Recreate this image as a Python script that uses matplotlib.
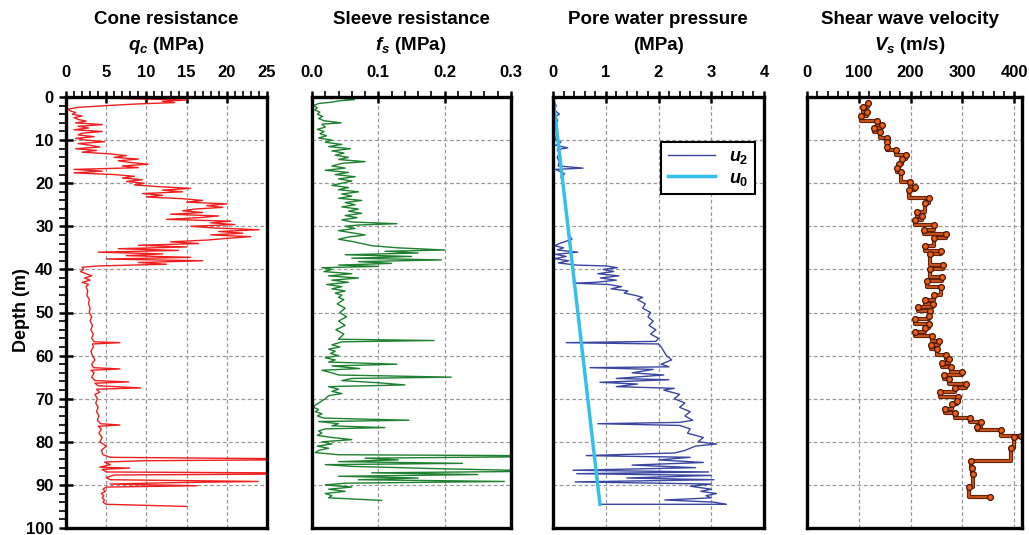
import matplotlib.pyplot as plt
import matplotlib.patheffects as pe
from matplotlib.ticker import MultipleLocator

# cone resistance qc (MPa) vs depth (m)
qc_depth = [0.0, 0.4, 0.7, 1.0, 1.3, 1.6, 2.0, 2.4, 2.8, 3.2, 3.6, 4.0, 4.4, 4.8, 5.2, 5.6,
            6.0, 6.4, 6.8, 7.2, 7.6, 8.0, 8.4, 8.8, 9.2, 9.6, 10.0, 10.4, 10.8, 11.2, 11.6,
            12.0, 12.4, 12.8, 13.2, 13.6, 14.0, 14.4, 14.8, 15.2, 15.6, 16.0, 16.4, 16.8,
            17.2, 17.6, 18.0, 18.4, 18.8, 19.2, 19.6, 20.0, 20.4, 20.8, 21.2, 21.6, 22.0,
            22.4, 22.8, 23.2, 23.6, 24.0, 24.4, 24.8, 25.2, 25.6, 26.0, 26.4, 26.8, 27.2,
            27.6, 28.0, 28.4, 28.8, 29.2, 29.6, 30.0, 30.4, 30.8, 31.2, 31.6, 32.0, 32.4,
            32.8, 33.2, 33.6, 34.0, 34.4, 34.8, 35.2, 35.6, 36.0, 36.4, 36.8, 37.2, 37.6,
            38.0, 38.4, 38.8, 39.2, 39.5, 40.0, 40.5, 41.0, 41.5, 42.0, 42.5, 43.0, 43.5,
            44.0, 45.0, 46.0, 47.0, 48.0, 49.0, 50.0, 51.0, 52.0, 53.0, 54.0, 55.0, 56.0,
            56.8, 57.0, 57.3, 58.0, 59.0, 60.0, 61.0, 62.0, 62.8, 63.1, 63.4, 64.0, 65.0,
            65.8, 66.1, 66.4, 67.0, 67.5, 67.8, 68.5, 69.0, 70.0, 71.0, 72.0, 73.0, 74.0,
            75.0, 75.8, 76.1, 76.4, 77.0, 78.0, 79.0, 80.0, 81.0, 82.0, 83.0, 83.6, 83.9,
            84.2, 84.4, 84.7, 85.3, 85.9, 86.1, 86.4, 87.0, 87.2, 87.5, 87.7, 88.3, 88.8,
            89.2, 89.5, 89.8, 90.2, 90.5, 91.0, 91.5, 92.0, 92.5, 93.0, 93.5, 94.0, 94.5, 95.0]
qc_value = [0.5, 8.0, 15.0, 12.0, 13.5, 9.0, 5.0, 1.5, 0.3, 0.5, 1.2, 0.8, 2.0, 1.0, 1.5, 2.5,
            1.2, 4.5, 1.5, 2.8, 1.0, 4.5, 2.0, 1.5, 3.5, 1.2, 2.5, 4.8, 1.5, 3.0, 4.2,
            1.2, 3.8, 2.0, 5.5, 7.5, 6.0, 9.0, 6.5, 8.0, 10.2, 7.0, 9.0, 1.0,
            4.5, 1.0, 6.0, 8.5, 7.0, 9.5, 7.5, 9.7, 8.5, 11.5, 15.5, 12.0, 14.5,
            9.5, 12.0, 10.0, 14.5, 17.0, 15.0, 20.0, 17.5, 19.5, 16.0, 14.5, 17.0, 13.0,
            19.0, 16.5, 12.5, 20.5, 18.0, 21.0, 15.5, 18.5, 24.0, 19.0, 22.0, 18.0, 23.0,
            20.0, 17.5, 13.0, 16.5, 9.0, 15.0, 6.5, 14.0, 4.0, 12.0, 7.5, 15.5, 5.0,
            17.0, 9.0, 12.5, 4.0, 2.0, 2.2, 1.8, 2.5, 3.2, 2.3, 3.0, 2.0, 2.8,
            2.5, 2.7, 2.6, 2.9, 2.8, 3.0, 2.9, 3.2, 3.0, 3.3, 3.1, 3.4, 3.2,
            3.5, 6.7, 3.3, 3.4, 3.1, 3.3, 3.6, 3.2, 3.4, 6.7, 3.1, 3.5, 3.2,
            3.6, 7.8, 3.6, 4.0, 9.3, 3.8, 4.2, 3.6, 3.9, 3.7, 4.0, 3.8, 4.1,
            3.9, 4.3, 6.7, 4.0, 4.4, 4.1, 4.5, 4.2, 5.0, 4.4, 4.6, 5.5, 25.0,
            25.0, 9.5, 4.8, 5.5, 4.2, 7.9, 4.5, 5.0, 25.0, 25.0, 6.0, 5.0, 5.5,
            23.9, 12.6, 5.5, 16.3, 5.0, 4.6, 4.9, 4.4, 4.7, 4.5, 4.8, 4.6, 5.0, 15.0]

# sleeve resistance fs (MPa)
fs_depth = [0.0, 0.3, 0.6, 0.9, 1.2, 1.5, 2.0, 2.5, 3.0, 3.5, 4.0, 4.5, 5.0, 5.5, 6.0, 6.3,
            7.0, 7.5, 8.0, 8.5, 9.0, 9.5, 10.0, 10.5, 11.0, 11.5, 12.0, 12.5, 13.0, 13.5,
            14.0, 14.5, 15.0, 15.4, 16.0, 16.5, 17.0, 17.5, 18.0, 18.5, 19.0, 19.5, 20.0,
            20.5, 21.0, 21.5, 22.0, 22.5, 23.0, 23.5, 24.0, 24.5, 25.0, 25.5, 26.0, 26.5,
            27.0, 27.5, 28.0, 28.5, 29.0, 29.4, 29.7, 30.0, 30.5, 31.0, 31.5, 32.0, 32.5,
            33.0, 33.5, 34.0, 34.5, 35.0, 35.5, 35.8, 36.2, 36.6, 37.0, 37.4, 37.8, 38.2,
            38.6, 39.0, 39.3, 39.6, 40.0, 40.5, 41.0, 41.5, 42.0, 42.5, 43.0, 43.5, 44.0,
            44.5, 45.0, 45.5, 46.0, 46.5, 47.0, 48.0, 49.0, 50.0, 51.0, 52.0, 53.0, 54.0,
            55.0, 56.2, 56.5, 56.8, 57.5, 58.0, 58.5, 59.0, 59.5, 60.0, 60.5, 61.0, 61.5,
            62.0, 62.4, 63.0, 63.4, 64.0, 64.5, 65.0, 65.3, 65.8, 66.3, 66.8, 67.2, 67.8,
            68.3, 68.8, 69.3, 70.0, 70.5, 71.0, 71.5, 72.0, 72.5, 73.0, 73.5, 74.0, 74.5,
            75.0, 75.3, 75.8, 76.3, 76.7, 77.0, 77.5, 78.0, 78.5, 79.0, 79.5, 80.0, 80.5,
            81.0, 81.5, 82.0, 82.5, 83.0, 83.2, 83.5, 83.8, 84.2, 84.6, 85.0, 85.3, 85.7,
            86.2, 86.6, 86.9, 87.2, 87.6, 88.0, 88.4, 88.8, 89.2, 89.6, 90.0, 90.5, 91.0,
            91.5, 92.0, 92.5, 93.0, 93.6]
fs_value = [0.002, 0.045, 0.064, 0.040, 0.030, 0.010, 0.002, 0.008, 0.004, 0.012, 0.008, 0.016,
            0.010, 0.018, 0.044, 0.015, 0.020, 0.008, 0.018, 0.012, 0.022, 0.010, 0.030, 0.020,
            0.045, 0.025, 0.058, 0.030, 0.048, 0.035, 0.055, 0.040, 0.080, 0.045, 0.030, 0.050,
            0.020, 0.055, 0.035, 0.065, 0.040, 0.060, 0.045, 0.030, 0.055, 0.040, 0.070, 0.045,
            0.060, 0.040, 0.075, 0.050, 0.065, 0.045, 0.070, 0.055, 0.075, 0.050, 0.068, 0.045,
            0.060, 0.128, 0.070, 0.050, 0.065, 0.040, 0.060, 0.080, 0.055, 0.040, 0.060, 0.075,
            0.090, 0.130, 0.200, 0.110, 0.160, 0.050, 0.150, 0.060, 0.195, 0.070, 0.120, 0.040,
            0.100, 0.015, 0.030, 0.018, 0.060, 0.025, 0.070, 0.030, 0.055, 0.022, 0.045, 0.030,
            0.050, 0.035, 0.045, 0.040, 0.048, 0.038, 0.050, 0.042, 0.052, 0.040, 0.050, 0.036,
            0.048, 0.040, 0.184, 0.045, 0.030, 0.042, 0.025, 0.035, 0.028, 0.040, 0.020, 0.035,
            0.025, 0.128, 0.030, 0.072, 0.015, 0.030, 0.040, 0.210, 0.060, 0.045, 0.100, 0.140,
            0.025, 0.040, 0.030, 0.045, 0.025, 0.020, 0.015, 0.010, 0.005, 0.002, 0.010, 0.005,
            0.015, 0.008, 0.018, 0.146, 0.010, 0.040, 0.030, 0.110, 0.020, 0.010, 0.015, 0.008,
            0.030, 0.060, 0.015, 0.030, 0.008, 0.025, 0.010, 0.005, 0.040, 0.300, 0.300, 0.080,
            0.130, 0.040, 0.227, 0.020, 0.060, 0.180, 0.300, 0.300, 0.090, 0.250, 0.040, 0.160,
            0.070, 0.290, 0.050, 0.020, 0.060, 0.025, 0.050, 0.020, 0.030, 0.025, 0.105]

# pore water pressure u2 (MPa)
u2_depth = [0.0, 1.0, 2.0, 3.0, 4.0, 4.5, 5.5, 6.5, 8.0, 10.0, 10.5, 11.2, 11.8, 12.2, 13.0,
            14.0, 15.0, 16.0, 16.5, 16.8, 17.8, 18.5, 20.0, 22.0, 24.0, 26.0, 28.0, 30.0,
            32.0, 33.0, 34.0, 34.5, 35.0, 35.5, 36.0, 36.5, 37.0, 37.5, 38.0, 38.5, 39.0,
            39.2, 39.6, 40.0, 40.5, 41.0, 41.5, 42.0, 42.5, 43.0, 43.2, 43.5, 44.0, 44.5,
            45.0, 45.5, 46.0, 46.5, 47.0, 48.0, 49.0, 50.0, 51.0, 52.0, 53.0, 54.0, 55.0,
            56.0, 56.7, 57.0, 57.3, 58.0, 59.0, 60.0, 61.0, 62.0, 62.6, 62.8, 63.2, 64.0,
            64.5, 65.3, 65.6, 66.2, 66.6, 67.2, 67.6, 68.0, 69.0, 70.0, 71.0, 72.0, 73.0,
            74.0, 75.0, 75.5, 75.8, 76.2, 77.0, 78.0, 79.0, 80.0, 80.5, 81.0, 82.0, 82.6,
            83.2, 83.6, 84.2, 84.8, 85.4, 86.0, 86.6, 87.0, 87.4, 87.8, 88.4, 88.8, 89.3,
            89.8, 90.3, 91.0, 91.5, 92.0, 92.5, 93.0, 93.5, 94.0, 94.5, 94.5]
u2_value = [0.0, 0.02, 0.06, 0.03, 0.12, 0.05, 0.09, 0.04, 0.07, 0.05, 0.15, 0.05, 0.28, 0.08,
            0.12, 0.08, 0.12, 0.10, 0.57, 0.05, 0.22, 0.15, 0.19, 0.21, 0.23, 0.25, 0.27, 0.29,
            0.30, 0.36, 0.12, 0.03, 0.20, 0.08, 0.47, 0.05, 0.25, 0.03, 0.30, 0.10, 0.45,
            1.00, 1.22, 0.95, 1.15, 0.85, 1.25, 0.90, 1.20, 0.80, 0.38, 1.05, 1.30, 1.10,
            1.42, 1.35, 1.55, 1.70, 1.60, 1.75, 1.70, 1.85, 1.80, 1.90, 1.82, 1.95, 1.85,
            2.00, 1.95, 0.25, 2.00, 2.05, 2.10, 2.15, 2.25, 2.05, 2.20, 0.70, 1.90, 1.50,
            2.10, 1.20, 2.20, 0.89, 1.60, 1.20, 2.30, 2.10, 2.40, 2.30, 2.50, 2.40, 2.60,
            2.50, 2.65, 2.40, 0.85, 2.40, 2.60, 2.55, 2.85, 2.75, 3.10, 2.70, 2.50, 2.30,
            0.63, 2.60, 2.00, 2.85, 1.50, 2.70, 0.38, 2.95, 0.45, 3.00, 1.40, 3.05, 0.42,
            3.00, 2.60, 3.00, 2.80, 3.10, 2.90, 3.00, 2.12, 3.05, 3.29, 0.89]

# hydrostatic u0 (MPa)
u0_depth = [0.0, 94.5]
u0_value = [0.0, 0.89]

# shear wave velocity Vs (m/s)
vs_depth = [1.4, 2.3, 3.5, 4.4, 5.6, 6.5, 7.3, 8.2, 9.5, 10.5, 11.5, 12.4, 13.4, 14.5, 15.5,
            16.5, 17.3, 19.8, 20.8, 21.6, 23.5, 24.7, 26.6, 27.6, 28.5, 29.6, 30.8, 31.9,
            32.8, 34.6, 35.7, 36.5, 38.9, 39.9, 41.7, 42.8, 44.0, 46.0, 47.0, 48.0, 48.7,
            49.7, 50.8, 51.6, 52.7, 53.6, 54.5, 55.5, 56.5, 57.5, 58.5, 59.8, 60.8, 61.7,
            62.7, 63.8, 64.6, 65.5, 66.5, 67.5, 68.4, 69.5, 70.5, 71.3, 72.4, 73.3, 74.4,
            75.4, 76.5, 77.3, 78.6, 78.9, 81.4, 84.4, 86.1, 87.4, 90.5, 92.9]
vs_value = [118, 109, 115, 104, 135, 144, 129, 140, 155, 155, 155, 172, 192, 183, 177,
            173, 181, 199, 209, 196, 235, 228, 212, 222, 209, 245, 225, 269,
            245, 227, 258, 237, 263, 237, 261, 232, 258, 245, 228, 243, 215,
            238, 235, 209, 235, 228, 208, 241, 254, 239, 251, 268, 274, 260,
            277, 300, 264, 274, 306, 285, 256, 291, 290, 280, 266, 285, 315,
            335, 329, 375, 413, 400, 394, 317, 319, 321, 313, 353]

plt.rcParams['font.family'] = 'Liberation Sans'
plt.rcParams['font.weight'] = 'bold'
plt.rcParams['mathtext.fontset'] = 'custom'
plt.rcParams['mathtext.it'] = 'Liberation Sans:italic:bold'
plt.rcParams['mathtext.rm'] = 'Liberation Sans:bold'
plt.rcParams['mathtext.bf'] = 'Liberation Sans:bold'

W, H = 1029, 535
fig = plt.figure(figsize=(W / 100, H / 100), dpi=100)

boxes = [(66, 267), (312, 511), (553, 764), (807, 1022)]
axs = [fig.add_axes([l / W, 7 / H, (r - l) / W, 431 / H]) for l, r in boxes]

xlims = [(0, 25), (0, 0.3), (0, 4), (0, 415)]
xticks = [[0, 5, 10, 15, 20, 25], [0.0, 0.1, 0.2, 0.3], [0, 1, 2, 3, 4], [0, 100, 200, 300, 400]]
fmts = ['{:.0f}', '{:.1f}', '{:.0f}', '{:.0f}']
titles = [('Cone resistance', r'$q_c$ (MPa)'),
          ('Sleeve resistance', r'$f_s$ (MPa)'),
          ('Pore water pressure', '(MPa)'),
          ('Shear wave velocity', r'$V_s$ (m/s)')]
title_x = [166, 411, 658, 910]

for i, ax in enumerate(axs):
    ax.xaxis.tick_top()
    ax.set_xticks(xticks[i])
    ax.set_xticklabels([fmts[i].format(t) for t in xticks[i]])
    ax.xaxis.set_minor_locator(MultipleLocator((xticks[i][1] - xticks[i][0]) / 5))
    ax.yaxis.set_major_locator(MultipleLocator(10))
    ax.set_xlim(*xlims[i])
    ax.set_ylim(100, 0)
    ax.tick_params(axis='x', which='major', direction='inout', length=9, width=1.8,
                   labelsize=12, pad=8)
    ax.tick_params(axis='x', which='minor', direction='out', length=4, width=1.2)
    ax.grid(True, which='major', color='#9a9a9a', linestyle=(0, (3, 2)), linewidth=0.9)
    for s in ax.spines.values():
        s.set_linewidth(2.4)
    if i == 0:
        ax.yaxis.set_minor_locator(MultipleLocator(2))
        ax.tick_params(axis='y', which='major', direction='inout', length=10, width=1.8,
                       labelsize=12, pad=4)
        ax.tick_params(axis='y', which='minor', direction='out', length=5, width=1.2)
    else:
        ax.tick_params(axis='y', which='both', left=False, labelleft=False)
    fig.text(title_x[i] / W, 1 - 20 / H, titles[i][0], ha='center', va='center',
             fontsize=13.5, fontweight='bold')
    fig.text(title_x[i] / W, 1 - 45 / H, titles[i][1], ha='center', va='center',
             fontsize=13.5, fontweight='bold')

fig.text(22 / W, 1 - 310 / H, 'Depth (m)', rotation=90, ha='center', va='center',
         fontsize=13, fontweight='bold')

axs[0].plot(qc_value, qc_depth, color='#ee1f1f', lw=1.0)
axs[1].plot(fs_value, fs_depth, color='#1e8030', lw=1.0)
axs[2].plot(u2_value, u2_depth, color='#3a46a0', lw=1.0, label=r'$u_2$')
axs[2].plot(u0_value, u0_depth, color='#35c0ec', lw=2.5, label=r'$u_0$')
leg = axs[2].legend(loc='upper right', bbox_to_anchor=(0.957, 0.896), borderaxespad=0,
                    fancybox=False, edgecolor='black', framealpha=1, fontsize=13,
                    handlelength=2.6, borderpad=0.35, labelspacing=0.2)
leg.get_frame().set_linewidth(1.5)

axs[3].plot(vs_value, vs_depth, drawstyle='steps-pre', color='#c4501c', lw=1.6,
            path_effects=[pe.Stroke(linewidth=3.0, foreground='#5a1e08'), pe.Normal()])
axs[3].plot(vs_value, vs_depth, 'o', ms=4.2, mfc='#ea5f1c', mec='#4a1805', mew=0.9)

fig.savefig('out.png', dpi=100)
